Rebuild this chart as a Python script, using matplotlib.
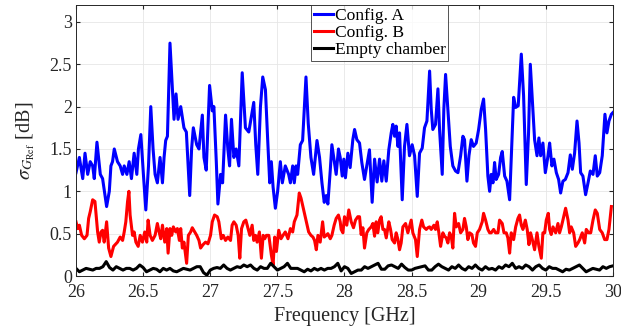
import numpy as np
import matplotlib
matplotlib.use("Agg")
import matplotlib.pyplot as plt

# Config. A (blue)
freq_a = [26.000, 26.025, 26.050, 26.067, 26.087, 26.106, 26.124, 26.136, 26.156, 26.181,
          26.198, 26.228, 26.248, 26.260, 26.272, 26.285, 26.309, 26.329, 26.347, 26.359,
          26.379, 26.396, 26.413, 26.433, 26.453, 26.465, 26.483, 26.502, 26.520, 26.540,
          26.557, 26.574, 26.589, 26.606, 26.626, 26.644, 26.656, 26.668, 26.681, 26.700,
          26.718, 26.730, 26.745, 26.760, 26.780, 26.804, 26.822, 26.847, 26.861, 26.874,
          26.899, 26.916, 26.941, 26.953, 26.970, 26.995, 27.015, 27.027, 27.045, 27.057,
          27.077, 27.092, 27.114, 27.131, 27.144, 27.158, 27.176, 27.193, 27.213, 27.238,
          27.262, 27.287, 27.324, 27.339, 27.354, 27.374, 27.391, 27.411, 27.428, 27.443,
          27.455, 27.468, 27.485, 27.502, 27.522, 27.537, 27.559, 27.584, 27.597, 27.614,
          27.626, 27.639, 27.651, 27.671, 27.688, 27.713, 27.730, 27.750, 27.770, 27.795,
          27.814, 27.832, 27.849, 27.864, 27.876, 27.894, 27.906, 27.938, 27.955, 27.968,
          27.983, 27.995, 28.007, 28.025, 28.042, 28.062, 28.075, 28.092, 28.112, 28.129,
          28.149, 28.166, 28.186, 28.206, 28.224, 28.243, 28.261, 28.278, 28.293, 28.311,
          28.330, 28.348, 28.360, 28.373, 28.385, 28.398, 28.410, 28.430, 28.447, 28.465,
          28.484, 28.504, 28.522, 28.542, 28.559, 28.579, 28.596, 28.614, 28.634, 28.646,
          28.658, 28.678, 28.696, 28.708, 28.728, 28.740, 28.753, 28.770, 28.788, 28.807,
          28.827, 28.845, 28.865, 28.882, 28.894, 28.912, 28.927, 28.944, 28.961, 28.981,
          28.999, 29.019, 29.036, 29.051, 29.068, 29.081, 29.093, 29.106, 29.118, 29.130,
          29.148, 29.163, 29.175, 29.193, 29.210, 29.230, 29.245, 29.260, 29.275, 29.294,
          29.317, 29.334, 29.354, 29.371, 29.384, 29.399, 29.416, 29.434, 29.448, 29.461,
          29.478, 29.496, 29.516, 29.528, 29.545, 29.560, 29.578, 29.595, 29.610, 29.627,
          29.645, 29.665, 29.682, 29.697, 29.714, 29.732, 29.747, 29.759, 29.776, 29.796,
          29.814, 29.831, 29.851, 29.868, 29.883, 29.901, 29.920, 29.940, 29.955, 29.970,
          29.988, 30.000]
sigma_a = [1.22, 1.40, 1.15, 1.45, 1.20, 1.35, 1.30, 1.15, 1.58, 1.20,
           1.15, 0.82, 1.00, 1.30, 1.35, 1.50, 1.35, 1.30, 1.20, 1.30,
           1.20, 1.35, 1.15, 1.45, 1.20, 1.50, 1.67, 1.20, 0.78, 1.30,
           2.00, 1.50, 1.20, 1.10, 1.40, 1.10, 1.40, 1.60, 1.65, 2.75,
           2.20, 1.85, 2.15, 1.85, 2.00, 1.75, 1.70, 0.95, 1.50, 1.75,
           1.55, 1.50, 1.90, 1.40, 1.25, 2.25, 1.95, 2.00, 1.35, 0.85,
           1.20, 1.10, 1.90, 1.50, 1.30, 1.85, 1.40, 1.50, 1.30, 2.40,
           1.75, 1.70, 2.05, 1.55, 1.20, 2.00, 2.35, 2.20, 1.60, 1.10,
           1.35, 1.05, 0.80, 1.00, 1.35, 1.10, 1.30, 1.20, 1.10, 1.30,
           1.10, 1.30, 1.20, 1.55, 1.60, 2.35, 1.80, 1.40, 1.20, 1.60,
           1.40, 1.10, 0.87, 0.95, 0.85, 1.25, 1.55, 1.20, 1.50, 1.40,
           1.18, 1.38, 1.16, 1.45, 1.28, 1.61, 1.73, 1.61, 1.57, 1.34,
           1.14, 1.30, 1.49, 0.87, 1.38, 1.11, 1.38, 1.12, 1.36, 1.12,
           1.49, 1.69, 1.79, 1.65, 1.77, 1.53, 1.69, 0.90, 1.53, 1.79,
           1.42, 1.55, 1.42, 0.94, 1.45, 1.51, 1.75, 1.83, 2.42, 1.97,
           1.73, 1.79, 2.21, 1.73, 1.20, 1.97, 2.38, 1.97, 1.53, 1.30,
           1.24, 1.22, 1.42, 1.65, 1.61, 1.12, 1.42, 1.61, 1.53, 1.57,
           1.73, 1.97, 2.09, 1.73, 1.18, 1.00, 1.20, 1.10, 1.34, 1.14,
           1.20, 1.40, 1.47, 1.18, 1.12, 0.90, 1.49, 2.11, 1.99, 2.01,
           2.62, 2.13, 1.08, 1.69, 2.50, 2.09, 1.61, 1.42, 1.63, 1.42,
           1.57, 1.22, 1.42, 1.57, 1.30, 1.38, 1.22, 1.14, 0.98, 1.12,
           1.14, 1.22, 1.43, 1.26, 1.45, 1.83, 1.57, 1.22, 1.18, 0.96,
           1.10, 1.24, 1.20, 1.42, 1.18, 1.22, 1.42, 1.91, 1.69, 1.83,
           1.91, 1.93]

# Config. B (red)
freq_b = [26.000, 26.012, 26.025, 26.042, 26.062, 26.082, 26.094, 26.106, 26.124, 26.141,
          26.161, 26.173, 26.186, 26.198, 26.210, 26.228, 26.243, 26.260, 26.280, 26.297,
          26.309, 26.329, 26.347, 26.359, 26.371, 26.384, 26.394, 26.403, 26.421, 26.433,
          26.446, 26.463, 26.478, 26.495, 26.512, 26.527, 26.537, 26.552, 26.569, 26.589,
          26.606, 26.619, 26.631, 26.644, 26.661, 26.676, 26.686, 26.700, 26.713, 26.725,
          26.743, 26.755, 26.770, 26.780, 26.792, 26.804, 26.824, 26.837, 26.854, 26.866,
          26.884, 26.899, 26.916, 26.928, 26.946, 26.965, 26.983, 27.002, 27.015, 27.032,
          27.052, 27.064, 27.082, 27.097, 27.114, 27.131, 27.151, 27.163, 27.176, 27.193,
          27.208, 27.220, 27.233, 27.250, 27.265, 27.282, 27.295, 27.312, 27.324, 27.337,
          27.349, 27.366, 27.381, 27.394, 27.406, 27.418, 27.436, 27.443, 27.455, 27.468,
          27.480, 27.493, 27.510, 27.527, 27.542, 27.559, 27.579, 27.597, 27.614, 27.626,
          27.646, 27.663, 27.676, 27.696, 27.713, 27.733, 27.750, 27.765, 27.777, 27.790,
          27.802, 27.819, 27.837, 27.849, 27.864, 27.876, 27.894, 27.906, 27.923, 27.938,
          27.955, 27.968, 27.975, 27.988, 28.000, 28.017, 28.032, 28.050, 28.067, 28.082,
          28.099, 28.112, 28.124, 28.137, 28.149, 28.166, 28.181, 28.199, 28.211, 28.224,
          28.236, 28.248, 28.261, 28.273, 28.286, 28.298, 28.311, 28.330, 28.343, 28.355,
          28.373, 28.385, 28.398, 28.410, 28.422, 28.435, 28.455, 28.472, 28.484, 28.497,
          28.509, 28.529, 28.542, 28.559, 28.576, 28.589, 28.609, 28.621, 28.634, 28.646,
          28.666, 28.678, 28.691, 28.703, 28.716, 28.733, 28.745, 28.758, 28.770, 28.783,
          28.795, 28.807, 28.820, 28.832, 28.850, 28.865, 28.882, 28.894, 28.907, 28.919,
          28.932, 28.949, 28.961, 28.976, 28.989, 29.006, 29.026, 29.036, 29.051, 29.068,
          29.081, 29.093, 29.111, 29.125, 29.143, 29.155, 29.175, 29.188, 29.205, 29.217,
          29.230, 29.242, 29.260, 29.275, 29.292, 29.304, 29.317, 29.329, 29.347, 29.361,
          29.374, 29.386, 29.399, 29.416, 29.434, 29.448, 29.466, 29.478, 29.491, 29.503,
          29.518, 29.528, 29.540, 29.553, 29.573, 29.590, 29.602, 29.615, 29.627, 29.647,
          29.665, 29.677, 29.689, 29.707, 29.722, 29.739, 29.752, 29.771, 29.789, 29.801,
          29.819, 29.834, 29.851, 29.868, 29.883, 29.901, 29.920, 29.938, 29.955, 29.970,
          29.988]
sigma_b = [0.64, 0.56, 0.60, 0.48, 0.44, 0.48, 0.68, 0.76, 0.90, 0.88,
           0.52, 0.40, 0.52, 0.54, 0.40, 0.64, 0.33, 0.23, 0.35, 0.38,
           0.40, 0.46, 0.42, 0.52, 0.64, 0.88, 1.00, 0.72, 0.48, 0.52,
           0.40, 0.35, 0.48, 0.40, 0.52, 0.40, 0.66, 0.48, 0.42, 0.48,
           0.62, 0.52, 0.44, 0.60, 0.40, 0.56, 0.27, 0.56, 0.48, 0.58,
           0.52, 0.56, 0.42, 0.56, 0.33, 0.40, 0.15, 0.48, 0.52, 0.57,
           0.52, 0.48, 0.42, 0.33, 0.37, 0.40, 0.38, 0.48, 0.64, 0.72,
           0.70, 0.64, 0.44, 0.48, 0.42, 0.46, 0.42, 0.60, 0.64, 0.60,
           0.48, 0.21, 0.56, 0.64, 0.66, 0.56, 0.48, 0.60, 0.42, 0.48,
           0.40, 0.52, 0.21, 0.48, 0.44, 0.48, 0.48, 0.40, 0.25, 0.13,
           0.46, 0.29, 0.54, 0.44, 0.48, 0.52, 0.44, 0.56, 0.52, 0.64,
           0.72, 0.98, 0.92, 0.78, 0.66, 0.52, 0.48, 0.46, 0.42, 0.31,
           0.48, 0.40, 0.64, 0.46, 0.48, 0.50, 0.44, 0.48, 0.60, 0.68,
           0.72, 0.64, 0.55, 0.51, 0.70, 0.60, 0.78, 0.64, 0.57, 0.66,
           0.70, 0.70, 0.49, 0.57, 0.33, 0.51, 0.55, 0.58, 0.62, 0.47,
           0.64, 0.51, 0.66, 0.70, 0.55, 0.55, 0.45, 0.64, 0.55, 0.43,
           0.39, 0.51, 0.43, 0.31, 0.39, 0.58, 0.62, 0.51, 0.58, 0.66,
           0.51, 0.43, 0.23, 0.55, 0.66, 0.58, 0.55, 0.57, 0.58, 0.55,
           0.60, 0.55, 0.64, 0.51, 0.35, 0.51, 0.47, 0.45, 0.39, 0.51,
           0.47, 0.33, 0.74, 0.58, 0.62, 0.51, 0.55, 0.68, 0.58, 0.43,
           0.51, 0.49, 0.39, 0.35, 0.51, 0.55, 0.64, 0.74, 0.66, 0.55,
           0.51, 0.51, 0.55, 0.51, 0.51, 0.66, 0.62, 0.51, 0.51, 0.45,
           0.27, 0.51, 0.43, 0.58, 0.68, 0.72, 0.60, 0.55, 0.66, 0.55,
           0.37, 0.51, 0.43, 0.31, 0.51, 0.35, 0.21, 0.51, 0.51, 0.66,
           0.74, 0.55, 0.49, 0.58, 0.51, 0.62, 0.51, 0.58, 0.66, 0.80,
           0.66, 0.51, 0.58, 0.51, 0.35, 0.39, 0.43, 0.51, 0.39, 0.55,
           0.51, 0.51, 0.66, 0.78, 0.74, 0.55, 0.51, 0.43, 0.43, 0.55,
           0.82]

# Empty chamber (black), sampled every 25 MHz from 26 to 30 GHz
freq_empty = np.linspace(26, 30, 161)
sigma_empty = [0.09, 0.05, 0.07, 0.09, 0.08, 0.07, 0.09, 0.09, 0.11, 0.17,
               0.10, 0.07, 0.11, 0.09, 0.07, 0.09, 0.09, 0.07, 0.09, 0.13,
               0.10, 0.05, 0.07, 0.09, 0.08, 0.05, 0.09, 0.07, 0.09, 0.06,
               0.05, 0.07, 0.09, 0.08, 0.07, 0.09, 0.11, 0.11, 0.04, 0.01,
               0.07, 0.09, 0.10, 0.09, 0.13, 0.09, 0.07, 0.09, 0.11, 0.10,
               0.13, 0.11, 0.13, 0.09, 0.07, 0.11, 0.09, 0.09, 0.15, 0.11,
               0.07, 0.09, 0.11, 0.15, 0.09, 0.09, 0.09, 0.07, 0.05, 0.08,
               0.06, 0.09, 0.07, 0.09, 0.07, 0.09, 0.09, 0.11, 0.15, 0.06,
               0.11, 0.09, 0.03, 0.05, 0.07, 0.07, 0.11, 0.09, 0.11, 0.13,
               0.15, 0.08, 0.08, 0.12, 0.13, 0.11, 0.09, 0.14, 0.10, 0.07,
               0.07, 0.09, 0.10, 0.11, 0.12, 0.07, 0.07, 0.11, 0.14, 0.11,
               0.09, 0.07, 0.11, 0.09, 0.13, 0.09, 0.07, 0.11, 0.09, 0.13,
               0.09, 0.07, 0.11, 0.08, 0.09, 0.07, 0.11, 0.09, 0.13, 0.11,
               0.15, 0.09, 0.11, 0.09, 0.13, 0.11, 0.07, 0.11, 0.13, 0.09,
               0.07, 0.11, 0.09, 0.09, 0.07, 0.05, 0.08, 0.07, 0.09, 0.11,
               0.13, 0.09, 0.05, 0.07, 0.09, 0.08, 0.07, 0.11, 0.09, 0.11,
               0.12]

labels = ['Config. A', 'Config. B', 'Empty chamber']
x_ticks = [26, 26.5, 27, 27.5, 28, 28.5, 29, 29.5, 30]
y_ticks = [0, 0.5, 1, 1.5, 2, 2.5, 3]

plt.rcParams['font.family'] = ['Liberation Serif', 'DejaVu Serif']
plt.rcParams['mathtext.fontset'] = 'stix'

fig = plt.figure(figsize=(6.21, 3.35), dpi=100)
ax = fig.add_axes([0.1224, 0.1761, 0.8647, 0.809])

ax.plot(freq_a, sigma_a, color='#0000ff', lw=2.2, label=labels[0])
ax.plot(freq_b, sigma_b, color='#ff0000', lw=2.2, label=labels[1])
ax.plot(freq_empty, sigma_empty, color='black', lw=2.2, label=labels[2])

ax.set_xlim(26, 30)
ax.set_ylim(0, 3.2)
ax.set_xticks(x_ticks)
ax.set_xticklabels([f'{t:g}' for t in x_ticks])
ax.set_yticks(y_ticks)
ax.set_yticklabels([f'{t:g}' for t in y_ticks])
ax.tick_params(direction='in', labelsize=13, length=3, top=True, right=True,
               color='#262626', labelcolor='#262626')
ax.tick_params(axis='x', pad=6)
ax.tick_params(axis='y', pad=3)
ax.grid(True, color='#e6e6e6', lw=0.6)
ax.set_axisbelow(True)
for s in ax.spines.values():
    s.set_color('#262626')
    s.set_linewidth(0.7)

ax.set_xlabel('Frequency [GHz]', fontsize=14.5, color='#262626', labelpad=4)
ax.set_ylabel(r'$\sigma_{G_{\mathrm{Ref}}}$ [dB]', fontsize=14.5, color='#262626', labelpad=9)

leg = ax.legend(loc='upper left', bbox_to_anchor=(0.438, 1.0), borderaxespad=0,
                fontsize=12.6, frameon=True, fancybox=False, handlelength=1.1,
                handletextpad=0.1, labelspacing=0.05, borderpad=0.15)
leg.get_frame().set_edgecolor('#262626')
leg.get_frame().set_linewidth(0.7)

fig.savefig('out.png', dpi=100)
